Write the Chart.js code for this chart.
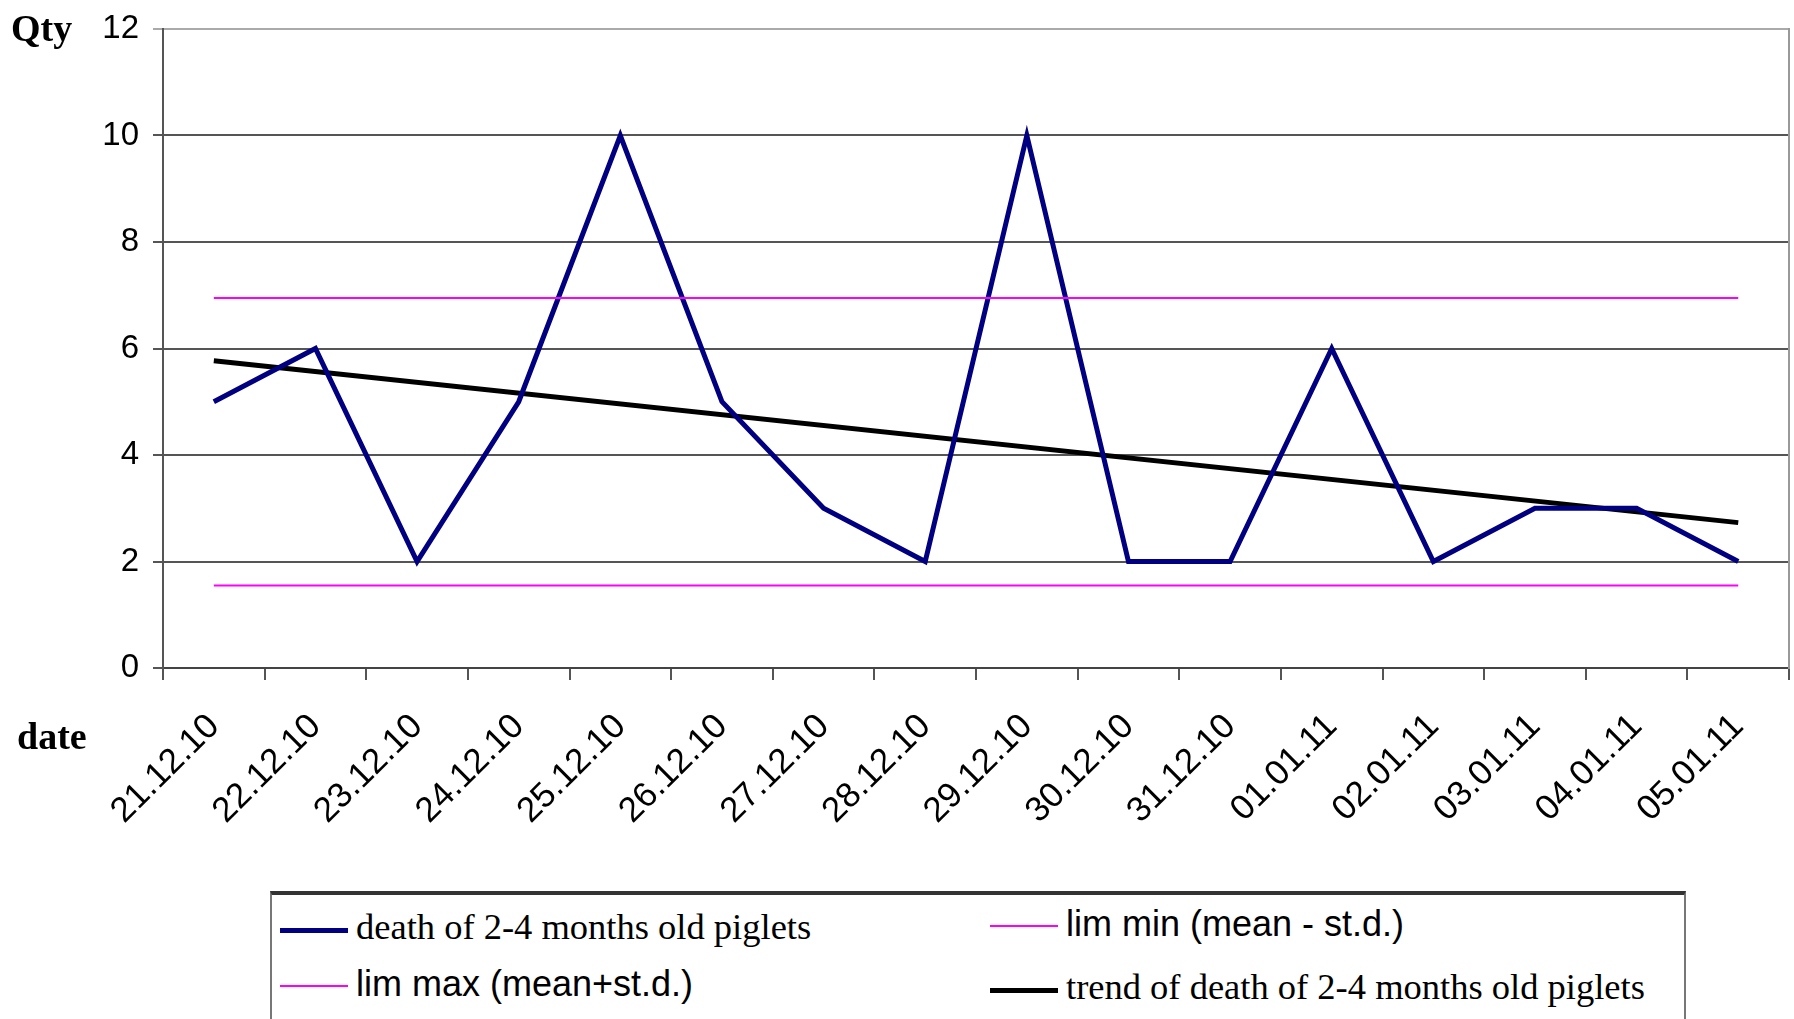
<!DOCTYPE html>
<html>
<head>
<meta charset="UTF-8">
<script src="https://cdn.jsdelivr.net/npm/chart.js@4.4.1/dist/chart.umd.min.js"></script>
<style>
    body { margin:0; background:#fff; }
    #wrap { position:relative; width:1794px; height:1019px; overflow:hidden; }
    .axisTitle { position:absolute; font-family:"Liberation Serif","Times New Roman",serif; font-weight:bold; font-size:38px; color:#000; }
    #legendBox { position:absolute; left:270px; top:891px; width:1412px; height:140px; border:2px solid #777; border-top:4px solid #333; background:#fff; }
    .item { position:absolute; white-space:nowrap; }
    .swatch { display:inline-block; width:68px; vertical-align:middle; margin-right:8px; }
    .serif { font-family:"Liberation Serif","Times New Roman",serif; font-size:36.5px; }
    .sans { font-family:"Liberation Sans",Arial,sans-serif; font-size:36px; }
</style>
</head>
<body>
<div id="wrap">
    <canvas id="chart" width="1794" height="1019"></canvas>
    <div class="axisTitle" style="left:11px;top:6px;">Qty</div>
    <div class="axisTitle" style="left:17px;top:714px;">date</div>
    <div id="legendBox">
        <div class="item serif" style="left:8px;top:10px;"><span class="swatch" style="border-top:5px solid #000080;"></span>death of 2-4 months old piglets</div>
        <div class="item sans" style="left:718px;top:8px;"><span class="swatch" style="border-top:2px solid #ff00ff;"></span>lim min (mean - st.d.)</div>
        <div class="item sans" style="left:8px;top:68px;"><span class="swatch" style="border-top:2px solid #ff00ff;"></span>lim max (mean+st.d.)</div>
        <div class="item serif" style="left:718px;top:70px;"><span class="swatch" style="border-top:5px solid #000;"></span>trend of death of 2-4 months old piglets</div>
    </div>
</div>
<script>
    // dates of observation
    const dates = ["21.12.10","22.12.10","23.12.10","24.12.10","25.12.10","26.12.10","27.12.10","28.12.10",
                   "29.12.10","30.12.10","31.12.10","01.01.11","02.01.11","03.01.11","04.01.11","05.01.11"];
    // deaths per day
    const deaths = [5, 6, 2, 5, 10, 5, 3, 2, 10, 2, 2, 6, 2, 3, 3, 2];
    // limits
    const limMax = [6.95,6.95,6.95,6.95,6.95,6.95,6.95,6.95,6.95,6.95,6.95,6.95,6.95,6.95,6.95,6.95];
    const limMin = [1.55,1.55,1.55,1.55,1.55,1.55,1.55,1.55,1.55,1.55,1.55,1.55,1.55,1.55,1.55,1.55];
    // trend line end points (straight line between them)
    const trend = [5.77,null,null,null,null,null,null,null,null,null,null,null,null,null,null,2.73];

    const ctx = document.getElementById('chart');
    new Chart(ctx, {
        type: 'line',
        data: {
            labels: dates,
            datasets: [
                { label:'lim max (mean+st.d.)', data:limMax, borderColor:'#ff00ff', borderWidth:2, pointRadius:0 },
                { label:'lim min (mean - st.d.)', data:limMin, borderColor:'#ff00ff', borderWidth:2, pointRadius:0 },
                { label:'death of 2-4 months old piglets', data:deaths, borderColor:'#000080', borderWidth:5, pointRadius:0, tension:0 },
                { label:'trend of death of 2-4 months old piglets', data:trend, borderColor:'#000', borderWidth:5, pointRadius:0, spanGaps:true }
            ]
        },
        options: {
            responsive: false,
            animation: false,
            layout: { padding: { top:29, right:2, left:0, bottom:0 } },
            plugins: { legend: { display:false }, tooltip: { enabled:false } },
            scales: {
                x: {
                    offset: true,
                    afterFit: function(scale) { scale.height = 351; },
                    grid: { offset:true, drawOnChartArea:false, drawTicks:true, tickLength:12, color:'#555', lineWidth:2 },
                    border: { display:true, color:'#444', width:2 },
                    ticks: { color:'#000', minRotation:45, maxRotation:45, autoSkip:false, padding:26,
                             font:{ family:'"Liberation Sans", Arial, sans-serif', size:35 } }
                },
                y: {
                    min: 0, max: 12,
                    afterFit: function(scale) { scale.width = 163; scale.paddingTop = 0; },
                    grid: {
                        color: function(c) { return c.tick && c.tick.value === 12 ? '#aaa' : '#555'; },
                        lineWidth: 2, tickLength: 10
                    },
                    border: { display:true, color:'#555', width:2 },
                    ticks: { stepSize:2, color:'#000', padding:14,
                             font:{ family:'"Liberation Sans", Arial, sans-serif', size:33 } }
                },
                y2: {
                    position: 'right', min:0, max:12,
                    afterFit: function(scale) { scale.width = 0; },
                    grid: { display:false },
                    border: { display:true, color:'#999', width:2 },
                    ticks: { display:false }
                }
            }
        }
    });
</script>
</body>
</html>
